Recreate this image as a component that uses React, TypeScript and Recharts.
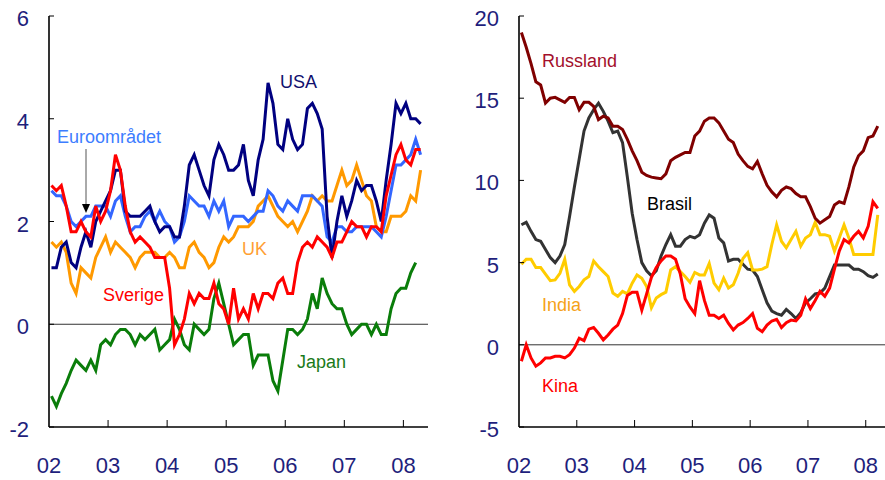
import React from 'react';
import { LineChart, Line, XAxis, YAxis, ReferenceLine } from 'recharts';

// Inflation, monthly, Jan 2002 onward (percent, year on year)
const yearLabels = ['02', '03', '04', '05', '06', '07', '08'];
const yearTicks = [0, 12, 24, 36, 48, 60, 72];

const usa = [
  1.1, 1.1, 1.5, 1.6, 1.2, 1.1, 1.5, 1.8, 1.5, 2.0, 2.2, 2.4,
  2.6, 3.0, 3.0, 2.2, 2.1, 2.1, 2.1, 2.2, 2.3, 2.0, 1.8, 1.9,
  1.9, 1.7, 1.7, 2.3, 3.1, 3.3, 3.0, 2.7, 2.5, 3.2, 3.5, 3.3,
  3.0, 3.0, 3.1, 3.5, 2.8, 2.5, 3.2, 3.6, 4.7, 4.3, 3.5, 3.4,
  4.0, 3.6, 3.4, 3.5, 4.2, 4.3, 4.1, 3.8, 2.1, 1.3, 2.0, 2.5,
  2.1, 2.4, 2.8, 2.6, 2.7, 2.7, 2.4, 2.0, 2.8, 3.5, 4.3, 4.1,
  4.3, 4.0, 4.0, 3.9,
];
const euro = [
  2.6, 2.5, 2.5, 2.3, 2.0, 1.9, 2.0, 2.1, 2.1, 2.3, 2.3, 2.3,
  2.1, 2.4, 2.5, 2.1, 1.8, 1.9, 1.9, 2.1, 2.2, 2.0, 2.2, 2.0,
  1.9, 1.6, 1.7, 2.0, 2.5, 2.4, 2.3, 2.3, 2.1, 2.4, 2.2, 2.4,
  1.9, 2.1, 2.1, 2.1, 2.0, 2.1, 2.2, 2.2, 2.6, 2.5, 2.3, 2.2,
  2.4, 2.3, 2.2, 2.5, 2.5, 2.5, 2.4, 2.3, 1.7, 1.6, 1.9, 1.9,
  1.8, 1.8, 1.9, 1.9, 1.9, 1.9, 1.8, 1.7, 2.1, 2.6, 3.1, 3.1,
  3.2, 3.3, 3.6, 3.3,
];
const uk = [
  1.6, 1.5, 1.6, 1.4, 0.8, 0.6, 1.1, 1.0, 0.9, 1.3, 1.5, 1.7,
  1.4, 1.6, 1.5, 1.4, 1.3, 1.1, 1.3, 1.4, 1.4, 1.4, 1.3, 1.3,
  1.4, 1.3, 1.1, 1.1, 1.5, 1.6, 1.4, 1.3, 1.1, 1.2, 1.5, 1.7,
  1.6, 1.7, 1.9, 1.9, 1.9, 2.0, 2.3, 2.4, 2.5, 2.3, 2.1, 2.0,
  1.9, 2.0, 1.8, 2.0, 2.2, 2.5, 2.4, 2.5, 2.4, 2.4, 2.7, 3.0,
  2.7, 2.8, 3.1, 2.8, 2.5, 2.4, 1.9, 1.8, 1.8, 2.1, 2.1, 2.1,
  2.2, 2.5, 2.4, 3.0,
];
const sverige = [
  2.7, 2.6, 2.7, 2.3, 1.8, 1.8, 2.0, 1.8, 1.7, 2.3, 2.0, 2.2,
  2.6, 3.3, 3.0, 2.3, 1.8, 1.6, 1.7, 1.6, 1.5, 1.3, 1.3, 1.3,
  0.7, -0.4, -0.2, 0.1, 0.6, 0.4, 0.6, 0.5, 0.5, 0.8, 0.4, 0.3,
  0.0, 0.7, 0.1, 0.3, 0.1, 0.6, 0.3, 0.6, 0.6, 0.5, 0.8, 0.9,
  0.6, 0.6, 1.2, 1.5, 1.6, 1.5, 1.7, 1.6, 1.5, 1.3, 1.6, 1.6,
  1.8, 2.0, 1.9, 1.9, 1.7, 1.9, 1.9, 1.8, 2.5, 2.9, 3.3, 3.5,
  3.2, 3.1, 3.4, 3.4,
];
const japan = [
  -1.4, -1.6, -1.35, -1.15, -0.9, -0.7, -0.8, -0.9, -0.7, -0.9, -0.4, -0.3,
  -0.4, -0.2, -0.1, -0.1, -0.2, -0.4, -0.2, -0.3, -0.2, -0.1, -0.5, -0.4,
  -0.3, 0.1, -0.1, -0.4, -0.5, 0.0, -0.1, -0.2, -0.1, 0.5, 0.8, 0.4,
  0.0, -0.4, -0.3, -0.2, -0.2, -0.8, -0.6, -0.6, -0.6, -1.1, -1.3, -0.7,
  -0.1, -0.1, -0.2, -0.1, 0.1, 0.6, 0.3, 0.9, 0.6, 0.4, 0.3, 0.3,
  0.0, -0.2, -0.1, 0.0, 0.0, -0.2, 0.0, -0.2, -0.2, 0.3, 0.6, 0.7,
  0.7, 1.0, 1.2,
];

const russland = [
  19.0, 18.1, 17.1, 16.0, 15.8, 14.7, 15.0, 15.05, 14.9, 14.75, 15.05, 15.05,
  14.3, 14.75, 14.75, 14.5, 13.7, 13.9, 13.8, 13.3, 13.3, 13.1, 12.5, 11.8,
  11.2, 10.5, 10.3, 10.2, 10.15, 10.1, 10.4, 11.2, 11.4, 11.55, 11.7, 11.7,
  12.7, 13.0, 13.6, 13.8, 13.8, 13.5, 13.0, 12.5, 12.3, 11.6, 11.2, 10.85,
  10.7, 11.15, 10.4, 9.7, 9.3, 9.0, 9.4, 9.6, 9.5, 9.2, 9.0, 9.0,
  8.4, 7.7, 7.4, 7.6, 7.8, 8.5, 8.7, 8.6, 9.6, 10.8, 11.5, 11.8,
  12.6, 12.7, 13.3,
];
const brasil = [
  7.3, 7.45, 6.9, 6.4, 6.3, 5.8, 5.3, 5.0, 5.4, 6.1, 7.8, 9.6,
  11.3, 13.0, 13.8, 14.3, 14.7, 14.2, 13.6, 12.9, 13.0, 12.3, 10.2, 8.0,
  6.4, 5.0, 4.5, 4.2, 4.5, 5.4, 6.1, 6.7, 6.0, 6.0, 6.4, 6.6,
  6.5, 6.7, 7.4, 7.9, 7.7, 6.5, 6.2, 5.1, 5.2, 5.2, 4.9, 4.6,
  4.55, 4.15, 3.35, 2.55, 2.05, 1.9, 1.8, 2.15, 1.9, 1.6, 1.95, 2.55,
  2.8, 3.1, 3.15, 3.45, 4.15, 4.85, 4.85, 4.85, 4.85, 4.6, 4.6, 4.45,
  4.2, 4.1, 4.3,
];
const india = [
  4.9, 5.2, 5.2, 4.7, 4.7, 4.3, 3.9, 3.95, 4.35, 5.2, 3.65, 3.25,
  3.55, 3.95, 4.15, 5.1, 4.75, 4.45, 4.15, 3.15, 2.95, 3.25, 3.1, 3.75,
  4.25, 4.05, 3.55, 2.25, 2.85, 3.05, 3.2, 4.55, 4.75, 4.45, 4.15, 3.8,
  4.4, 4.25, 4.25, 4.95, 3.75, 3.35, 4.05, 3.45, 3.65, 4.35, 5.25, 5.6,
  4.55, 4.55, 4.6, 4.75, 6.1, 7.3, 6.3, 5.9, 6.4, 6.9, 6.0, 6.5,
  6.7, 7.45, 6.7, 6.7, 6.6, 5.7, 6.5, 7.3, 6.5, 5.5, 5.5, 5.5,
  5.5, 5.5, 7.9,
];
const kina = [
  -1.0, 0.0, -0.8, -1.3, -1.1, -0.8, -0.8, -0.7, -0.7, -0.8, -0.6, -0.2,
  0.4, 0.25, 0.95, 1.05, 0.7, 0.3, 0.6, 0.95, 1.2, 1.9, 3.0, 3.2,
  3.2, 2.1, 3.1, 4.1, 4.7, 5.1, 5.4, 5.4, 5.2, 4.3, 2.8, 2.3,
  1.9, 3.9, 2.7, 1.8, 1.8, 1.6, 1.8, 1.3, 0.9, 1.2, 1.35, 1.6,
  1.9, 1.0, 0.8, 1.2, 1.45, 1.55, 1.05, 1.35, 1.5, 1.45, 1.8, 2.8,
  2.2, 2.7, 3.25, 2.95, 3.45, 4.6, 5.7, 6.4, 6.2, 6.6, 6.9, 6.5,
  7.2, 8.7, 8.3,
];

const leftRows = usa.map((v, i) => ({
  t: i + 0.5,
  usa: v,
  euro: euro[i] ?? null,
  uk: uk[i] ?? null,
  sverige: sverige[i] ?? null,
  japan: japan[i] ?? null,
}));

const rightRows = russland.map((v, i) => ({
  t: i + 0.5,
  russland: v,
  brasil: brasil[i] ?? null,
  india: india[i] ?? null,
  kina: kina[i] ?? null,
}));

const FONT = '"Liberation Sans", Arial, Helvetica, sans-serif';
const AXIS_TEXT = '#1f1f7c';
const FRAME = { stroke: '#000', strokeWidth: 1.6 };

// ticks point inwards, labels sit well outside the frame
const YTickLeft = ({ x, y, payload }: any) => (
  <g>
    <line x1={x} x2={x + 5} y1={y} y2={y} stroke="#000" strokeWidth={1} />
    <text x={x - 20} y={y + 10} textAnchor="end" fontSize={22} fill={AXIS_TEXT} fontFamily={FONT}>
      {payload.value}
    </text>
  </g>
);

const YTickRight = ({ x, y }: any) => (
  <line x1={x} x2={x - 5} y1={y} y2={y} stroke="#000" strokeWidth={1} />
);

const XTick = ({ x, y, payload }: any) => (
  <g>
    {payload.value > 0 && <line x1={x} x2={x} y1={y} y2={y - 7} stroke="#000" strokeWidth={1} />}
    <text x={x} y={y + 46} textAnchor="middle" fontSize={22} fill={AXIS_TEXT} fontFamily={FONT}>
      {yearLabels[payload.value / 12]}
    </text>
  </g>
);

function Panel({ rows, width, right, domainX, domainY, ticksY, children }: any) {
  return (
    <LineChart width={width} height={480} data={rows} margin={{ top: 16, right, bottom: 0, left: 0 }}>
      <XAxis
        dataKey="t"
        type="number"
        domain={domainX}
        ticks={yearTicks}
        interval={0}
        height={53}
        tickSize={0}
        tickMargin={0}
        tickLine={false}
        axisLine={FRAME}
        tick={(p: any) => <XTick {...p} />}
      />
      <XAxis xAxisId="top" orientation="top" type="number" domain={domainX} height={0} tick={false} tickLine={false} axisLine={FRAME} />
      <YAxis
        type="number"
        domain={domainY}
        ticks={ticksY}
        interval={0}
        width={49}
        tickSize={0}
        tickMargin={0}
        tickLine={false}
        axisLine={FRAME}
        tick={(p: any) => <YTickLeft {...p} />}
      />
      <YAxis
        yAxisId="r"
        orientation="right"
        type="number"
        domain={domainY}
        ticks={ticksY}
        interval={0}
        width={0}
        tickSize={0}
        tickMargin={0}
        tickLine={false}
        axisLine={FRAME}
        tick={(p: any) => <YTickRight {...p} />}
      />
      <ReferenceLine y={0} stroke="#333" strokeWidth={1} />
      {children}
    </LineChart>
  );
}

const series = (key: string, color: string) => (
  <Line
    key={key}
    dataKey={key}
    type="linear"
    stroke={color}
    strokeWidth={3}
    dot={false}
    activeDot={false}
    isAnimationActive={false}
  />
);

const labelStyle = { fontFamily: FONT, fontSize: 18 };

export default function App() {
  return (
    <div style={{ position: 'absolute', left: 0, top: 0, width: 885, height: 480, background: '#fff', overflow: 'hidden' }}>
      <div style={{ position: 'absolute', left: 0, top: 0 }}>
        <Panel rows={leftRows} width={440} right={12} domainX={[0, 77]} domainY={[-2, 6]} ticksY={[-2, 0, 2, 4, 6]}>
          {series('uk', '#ff9900')}
          {series('japan', '#0a7d0a')}
          {series('euro', '#3366ff')}
          {series('usa', '#000080')}
          {series('sverige', '#ff0000')}
        </Panel>
      </div>
      <div style={{ position: 'absolute', left: 470, top: 0 }}>
        <Panel rows={rightRows} width={415} right={0} domainX={[0, 76]} domainY={[-5, 20]} ticksY={[-5, 0, 5, 10, 15, 20]}>
          {series('brasil', '#333333')}
          {series('india', '#ffcc00')}
          {series('russland', '#800000')}
          {series('kina', '#ff0000')}
        </Panel>
      </div>
      <svg width={885} height={480} style={{ position: 'absolute', left: 0, top: 0, pointerEvents: 'none' }}>
        <text x={280} y={88} fill="#10106e" style={labelStyle}>USA</text>
        <text x={57} y={143} fill="#3d7dff" style={labelStyle}>Euroområdet</text>
        <line x1={86} x2={86} y1={149} y2={205} stroke="#555" strokeWidth={1} />
        <polygon points="82,204 90,204 86,213" fill="#000" />
        <text x={242} y={255} fill="#ff9f33" style={labelStyle}>UK</text>
        <text x={103} y={301} fill="#ff0000" style={labelStyle}>Sverige</text>
        <text x={297} y={368} fill="#1a7a1a" style={labelStyle}>Japan</text>
        <text x={542} y={67} fill="#a30f2b" style={labelStyle}>Russland</text>
        <text x={647} y={210} fill="#000" style={labelStyle}>Brasil</text>
        <text x={542} y={311} fill="#f5a21a" style={labelStyle}>India</text>
        <text x={542} y={392} fill="#ff0000" style={labelStyle}>Kina</text>
      </svg>
    </div>
  );
}
